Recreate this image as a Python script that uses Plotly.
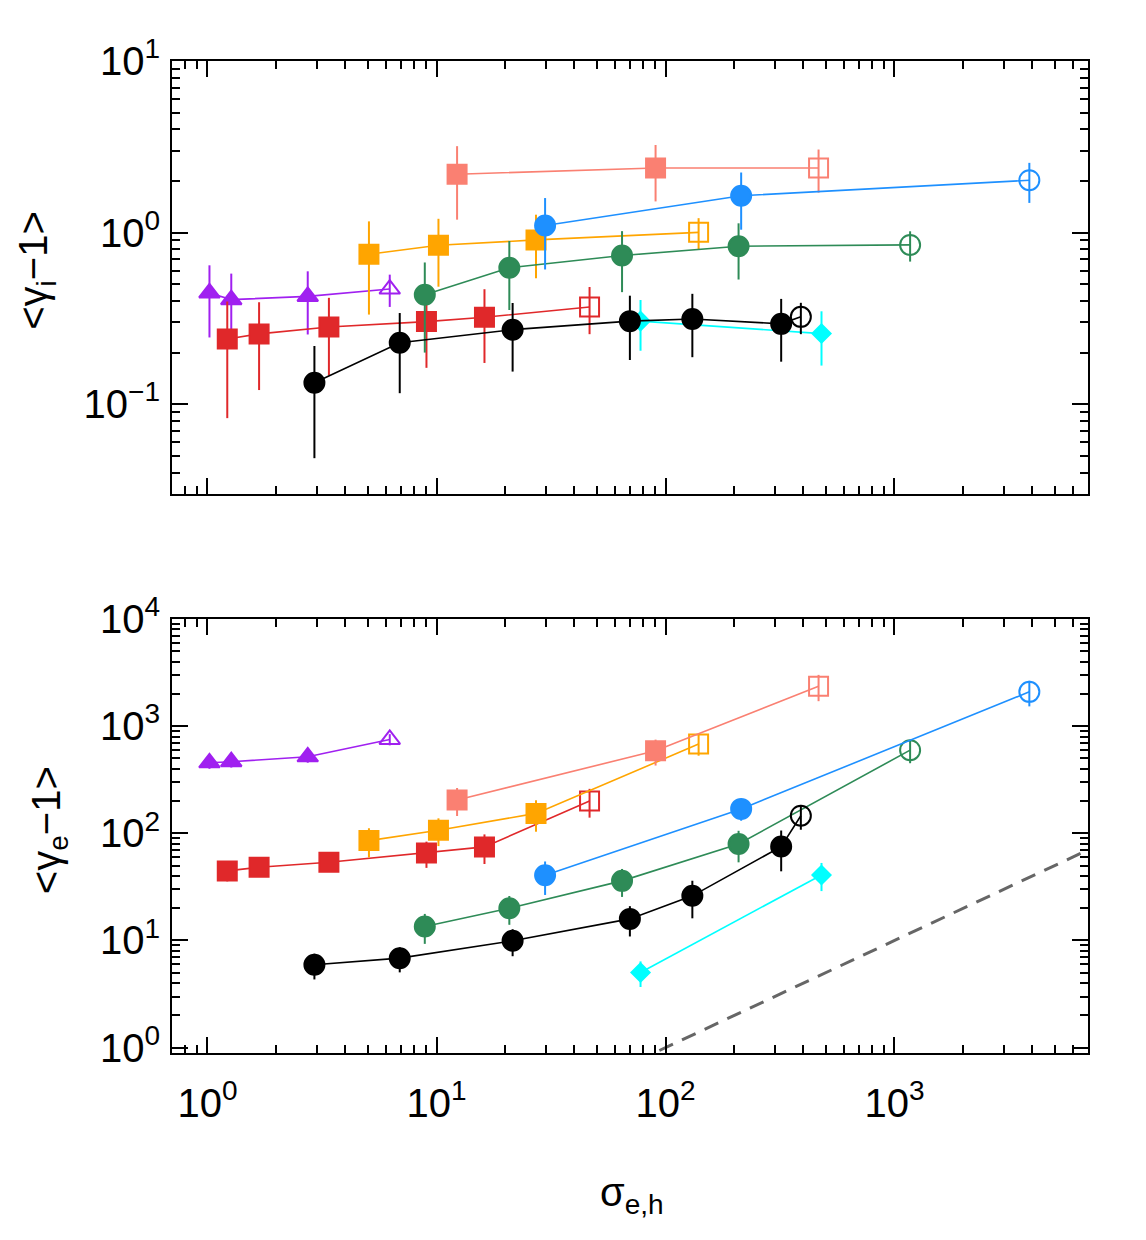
import plotly.graph_objects as go

# ---------------- data ----------------
names = ["purple", "red", "orange", "salmon", "green", "blue", "cyan", "black"]
colors = {"purple": "#A020F0", "red": "#E0282A", "orange": "#FFA500", "salmon": "#FA8072",
          "green": "#2E8B57", "blue": "#1E90FF", "cyan": "#00FFFF", "black": "#000000"}
symbols = {"purple": "triangle-up", "red": "square", "orange": "square", "salmon": "square",
           "green": "circle", "blue": "circle", "cyan": "diamond", "black": "circle"}
open_last = {"purple": True, "red": True, "orange": True, "salmon": True,
             "green": True, "blue": True, "cyan": False, "black": True}

sigma_purple = [1.02, 1.27, 2.74, 6.25]
sigma_red = [1.22, 1.68, 3.39, 9.04, 16.2, 46.6]
sigma_orange = [5.07, 10.2, 27.2, 139.5]
sigma_salmon = [12.3, 90.5, 466]
sigma_green = [8.89, 20.8, 64.6, 208.5, 1170]
sigma_blue = [29.8, 214, 3880]
sigma_cyan = [77.8, 480]
sigma_black = [2.93, 6.91, 21.5, 69.9, 131, 320, 390]

gi_purple = [0.445, 0.407, 0.425, 0.469]
gi_red = [0.240, 0.257, 0.282, 0.303, 0.321, 0.369]
gi_orange = [0.748, 0.844, 0.907, 1.004]
gi_salmon = [2.19, 2.38, 2.38]
gi_green = [0.435, 0.624, 0.735, 0.833, 0.848]
gi_blue = [1.10, 1.64, 2.02]
gi_cyan = [0.305, 0.258]
gi_black = [0.1335, 0.228, 0.272, 0.305, 0.314, 0.294, 0.323]

gi_err_purple = [0.20, 0.17, 0.17, 0.10]
gi_err_red = [0.157, 0.136, 0.135, 0.14, 0.147, 0.113]
gi_err_orange = [0.415, 0.36, 0.365, 0.21]
gi_err_salmon = [1.0, 0.86, 0.67]
gi_err_green = [0.235, 0.27, 0.285, 0.30, 0.17]
gi_err_blue = [0.49, 0.60, 0.53]
gi_err_cyan = [0.10, 0.09]
gi_err_black = [0.085, 0.112, 0.117, 0.124, 0.126, 0.117, 0.067]

ge_purple = [455, 466, 518, 752]
ge_red = [44.6, 48.2, 53.7, 65.6, 74.7, 200]
ge_orange = [85.5, 107, 153.5, 680]
ge_salmon = [205, 589, 2360]
ge_green = [13.5, 20, 36, 79.6, 597]
ge_blue = [40.6, 169, 2090]
ge_cyan = [5.03, 40.9]
ge_black = [5.93, 6.84, 9.93, 15.9, 26.1, 75.2, 146]

ge_err_purple = [55, 55, 62, 90]
ge_err_red = [9, 8, 9, 18, 23, 60]
ge_err_orange = [26, 31, 50, 150]
ge_err_salmon = [60, 160, 650]
ge_err_green = [4.2, 6, 10.5, 26, 146]
ge_err_blue = [14, 38, 560]
ge_err_cyan = [1.35, 12]
ge_err_black = [1.6, 1.8, 2.8, 5, 10, 31, 38]

ref_sigma = [0.5, 10000]
ref_ge = [0.005, 100]

sigma = {"purple": sigma_purple, "red": sigma_red, "orange": sigma_orange, "salmon": sigma_salmon,
         "green": sigma_green, "blue": sigma_blue, "cyan": sigma_cyan, "black": sigma_black}
gi = {"purple": gi_purple, "red": gi_red, "orange": gi_orange, "salmon": gi_salmon,
      "green": gi_green, "blue": gi_blue, "cyan": gi_cyan, "black": gi_black}
gi_err = {"purple": gi_err_purple, "red": gi_err_red, "orange": gi_err_orange, "salmon": gi_err_salmon,
          "green": gi_err_green, "blue": gi_err_blue, "cyan": gi_err_cyan, "black": gi_err_black}
ge = {"purple": ge_purple, "red": ge_red, "orange": ge_orange, "salmon": ge_salmon,
      "green": ge_green, "blue": ge_blue, "cyan": ge_cyan, "black": ge_black}
ge_err = {"purple": ge_err_purple, "red": ge_err_red, "orange": ge_err_orange, "salmon": ge_err_salmon,
          "green": ge_err_green, "blue": ge_err_blue, "cyan": ge_err_cyan, "black": ge_err_black}

msize = {"triangle-up": 18, "square": 19, "circle": 20, "diamond": 14}

fig = go.Figure()

for panel, (ydat, yerr, xa, ya) in enumerate([(gi, gi_err, "x", "y"), (ge, ge_err, "x2", "y2")]):
    for n in names:
        c = colors[n]
        s = symbols[n]
        npts = len(sigma[n])
        syms = [s] * npts
        if open_last[n]:
            syms[-1] = s + "-open"
        fig.add_trace(go.Scatter(
            x=sigma[n], y=ydat[n], xaxis=xa, yaxis=ya, mode="lines+markers",
            line=dict(color=c, width=1.6),
            marker=dict(symbol=syms, size=msize[s], color=c, line=dict(color=c, width=2)),
            error_y=dict(type="data", array=yerr[n], symmetric=True, color=c, thickness=2, width=0),
            showlegend=False, cliponaxis=True))

fig.add_trace(go.Scatter(x=ref_sigma, y=ref_ge, xaxis="x2", yaxis="y2", mode="lines",
                         line=dict(color="#666666", width=3, dash="15px,10px"), showlegend=False))

def decade_minors(lo, hi):
    vals = []
    for e in range(lo, hi):
        for d in range(2, 10):
            vals.append(d * 10.0 ** e)
    return vals

font_family = "Liberation Sans, Arial, Helvetica, sans-serif"
axis_common = dict(type="log", ticks="inside", ticklen=16, tickwidth=2, tickcolor="black",
                   showline=True, linecolor="black", linewidth=2, mirror="allticks",
                   showgrid=False, zeroline=False,
                   tickfont=dict(family=font_family, size=40, color="black"))

xtickvals = [1, 10, 100, 1000]
xticktext = ["10<sup>0</sup>", "10<sup>1</sup>", "10<sup>2</sup>", "10<sup>3</sup>"]
xminor = dict(tickmode="array", tickvals=decade_minors(-1, 4), ticks="inside", ticklen=8,
              tickwidth=2, tickcolor="black", showgrid=False)

fig.update_layout(
    width=1146, height=1240, paper_bgcolor="white", plot_bgcolor="white",
    margin=dict(l=172, r=58, t=61, b=187),
    font=dict(family=font_family, color="black"),
    xaxis=dict(axis_common, domain=[0, 1], range=[-0.155, 3.845], anchor="y",
               tickmode="array", tickvals=xtickvals, ticktext=xticktext, showticklabels=False,
               minor=xminor),
    yaxis=dict(axis_common, domain=[0.5635, 1], range=[-1.523, 1.0], anchor="x",
               tickmode="array", tickvals=[0.1, 1, 10],
               ticktext=["10<sup>−1</sup>", "10<sup>0</sup>", "10<sup>1</sup>"],
               ticklabelstandoff=2,
               minor=dict(tickmode="array", tickvals=decade_minors(-2, 1), ticks="inside",
                          ticklen=8, tickwidth=2, tickcolor="black", showgrid=False)),
    xaxis2=dict(axis_common, domain=[0, 1], range=[-0.155, 3.845], anchor="y2",
                tickmode="array", tickvals=xtickvals, ticktext=xticktext,
                ticklabelstandoff=14, minor=xminor),
    yaxis2=dict(axis_common, domain=[0, 0.4375], range=[-0.05, 4.0], anchor="x2",
                tickmode="array", tickvals=[1, 10, 100, 1000, 10000],
                ticktext=["10<sup>0</sup>", "10<sup>1</sup>", "10<sup>2</sup>", "10<sup>3</sup>",
                          "10<sup>4</sup>"],
                ticklabelstandoff=2,
                minor=dict(tickmode="array", tickvals=decade_minors(-1, 4), ticks="inside",
                           ticklen=8, tickwidth=2, tickcolor="black", showgrid=False)),
    annotations=[
        dict(text="&lt;γ<sub>i</sub>−1&gt;", xref="paper", yref="paper", x=-0.148, y=0.789,
             textangle=-90, showarrow=False, xanchor="center", yanchor="middle",
             font=dict(family=font_family, size=40, color="black")),
        dict(text="&lt;γ<sub>e</sub>−1&gt;", xref="paper", yref="paper", x=-0.135, y=0.225,
             textangle=-90, showarrow=False, xanchor="center", yanchor="middle",
             font=dict(family=font_family, size=40, color="black")),
        dict(text="σ<sub>e,h</sub>", xref="paper", yref="paper", x=(632 - 172) / 916, y=-0.143,
             showarrow=False, xanchor="center", yanchor="middle",
             font=dict(family=font_family, size=40, color="black")),
    ],
)

fig.write_html("out.html")
